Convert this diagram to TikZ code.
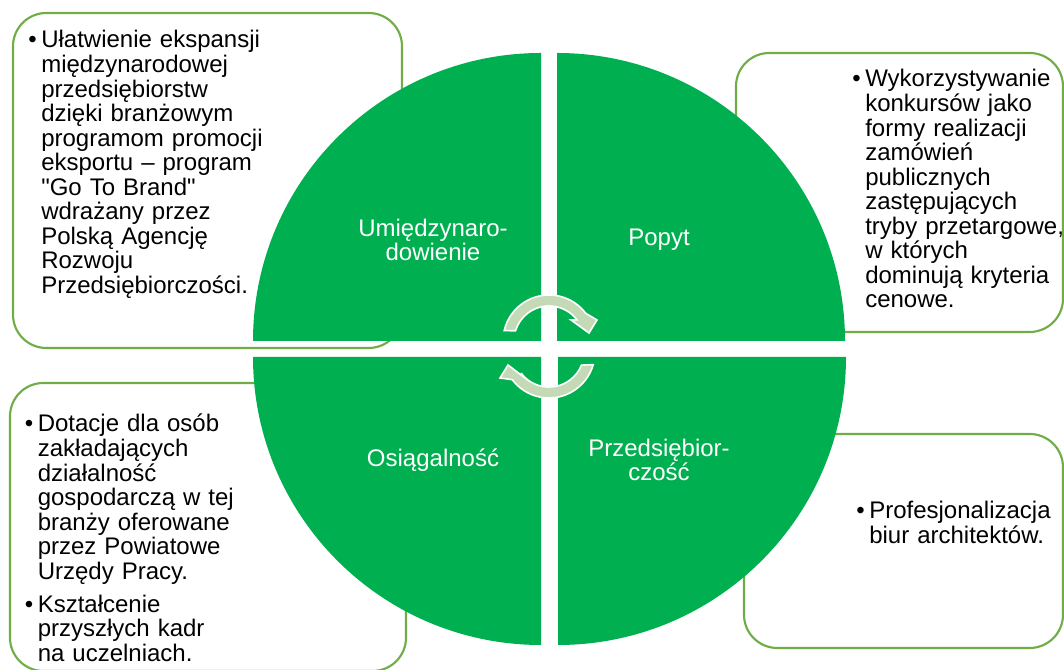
\documentclass[tikz,border=0pt]{standalone}
\usepackage{fontspec}
\setmainfont{Liberation Sans}
\usetikzlibrary{positioning}
\definecolor{piegreen}{HTML}{00B050}
\definecolor{framegreen}{HTML}{70AD47}
\definecolor{arrowgreen}{RGB}{196,218,183}
\newcommand{\pkt}[1]{{\let\\\newline\hangindent=9.75pt\hangafter=1\noindent\makebox[9.75pt][l]{\textbullet}#1\par}}
\tikzset{
    notebox/.style={draw=framegreen, line width=1.6pt, fill=white, rounded corners=25pt},
    notetext/.style={anchor=base west, inner sep=0pt, text width=#1, font=\fontsize{18}{18.4}\selectfont},
    quarter/.style={fill=piegreen},
    quartertext/.style={text=white, align=center, inner sep=0pt, font=\fontsize{18}{18}\selectfont},
    cyclearrow/.style={fill=arrowgreen, draw=white, line width=1.2pt, line join=miter}
}
\begin{document}
\begin{tikzpicture}[x=0.75pt, y=0.75pt]
    \useasboundingbox (0,0) rectangle (1064,670);
    \clip (0,0) rectangle (1064,670);
    % boxes behind the circle
    \draw[notebox] (13,322) rectangle (402,657);
    \draw[notebox] (736,338) rectangle (1063,617);
    \draw[notebox] (10,-1) rectangle (406,287);
    \draw[notebox] (744,22) rectangle (1063,236);
    \node[notetext=230pt] (tltext) at (28,622) {\pkt{Ułatwienie ekspansji\\
        międzynarodowej\\
        przedsiębiorstw\\
        dzięki branżowym\\
        programom promocji\\
        eksportu – program\\
        \textquotedbl Go To Brand\textquotedbl\\
        wdrażany przez\\
        Polską Agencję\\
        Rozwoju\\
        Przedsiębiorczości.}};
    \node[notetext=230pt] (trtext) at (852,583) {\pkt{Wykorzystywanie\\
        konkursów jako\\
        formy realizacji\\
        zamówień\\
        publicznych\\
        zastępujących\\
        tryby przetargowe,\\
        w których\\
        dominują kryteria\\
        cenowe.}};
    \node[notetext=230pt] (bltext) at (24.5,238) {\pkt{Dotacje dla osób\\
        zakładających\\
        działalność\\
        gospodarczą w tej\\
        branży oferowane\\
        przez Powiatowe\\
        Urzędy Pracy.}\vspace{6.4pt}
        \pkt{Kształcenie\\
        przyszłych kadr\\
        na uczelniach.}};
    \node[notetext=230pt] (brtext) at (856,151) {\pkt{Profesjonalizacja\\
        biur architektów.}};
    % the four quarters
    \fill[quarter] (541,329) -- (253,329) arc[start angle=180, end angle=90, radius=288] -- cycle;
    \fill[quarter] (557,329) -- (557,617) arc[start angle=90, end angle=0, radius=288] -- cycle;
    \fill[quarter] (541,313) -- (253,313) arc[start angle=180, end angle=270, radius=288] -- cycle;
    \fill[quarter] (558,313) -- (846,313) arc[start angle=0, end angle=-90, radius=288] -- cycle;
    \node[quartertext] (umi) at (433,430) {Umiędzynaro-\\dowienie};
    \node[quartertext] (popyt) at (659,430) {Popyt};
    \node[quartertext] (osi) at (433,210) {Osiągalność};
    \node[quartertext] (prz) at (659,210) {Przedsiębior-\\czość};
    % cycle arrows
    \begin{scope}[shift={(549,329)}]
        \filldraw[cyclearrow] (167:46) arc[start angle=167, end angle=37, radius=46]
            -- (48,21) -- (40,8) -- (22,21) -- (37:35) arc[start angle=37, end angle=163, radius=35] -- cycle;
    \end{scope}
    \begin{scope}[shift={(549,318)}]
        \filldraw[cyclearrow] (-16:46) arc[start angle=-16, end angle=-143, radius=46]
            -- (-49,-26) -- (-41,-13) -- (-24,-26) -- (217:35) arc[start angle=217, end angle=338, radius=35] -- cycle;
    \end{scope}
\end{tikzpicture}
\end{document}
